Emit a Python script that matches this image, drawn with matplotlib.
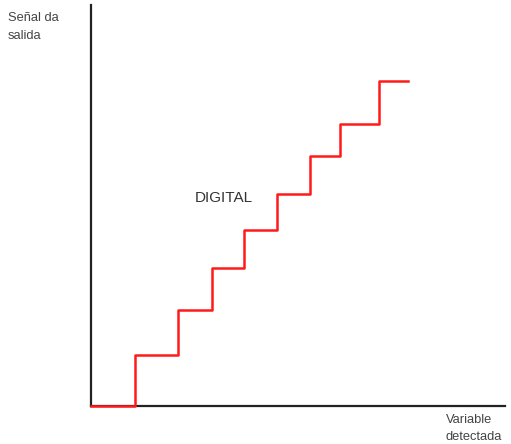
import matplotlib.pyplot as plt

plt.rcParams['font.family'] = ['Liberation Sans', 'DejaVu Sans']

# step breakpoints (arbitrary units along the detected variable)
x_steps = [0, 44, 87, 121, 153, 186, 219, 249, 288, 317]
y_levels = [0, 51, 96, 138, 176, 212, 250, 282, 325, 325]

fig = plt.figure(figsize=(5.11, 4.44), dpi=100)
ax = fig.add_axes([91/511, 38/444, 414/511, 401/444])
ax.step(x_steps, y_levels, where='post', color='#ff1a1a', lw=1.8,
        clip_on=False, zorder=5)
ax.set_xlim(0, 414)
ax.set_ylim(0, 401)
for s in ['top', 'right']:
    ax.spines[s].set_visible(False)
for s in ['left', 'bottom']:
    ax.spines[s].set_linewidth(1.6)
    ax.spines[s].set_color('#222222')
ax.set_xticks([])
ax.set_yticks([])

ax.text(104, 208, 'DIGITAL', fontsize=11, color='#333333', ha='left', va='center')
fig.text(8/511, 1 - 12/444, 'Señal da\nsalida', fontsize=9.3, color='#444444',
         ha='left', va='top', linespacing=1.7)
fig.text(446/511, 1 - 414/444, 'Variable\ndetectada', fontsize=9.3, color='#444444',
         ha='left', va='top', linespacing=1.55)

fig.savefig('out.png', dpi=100)
